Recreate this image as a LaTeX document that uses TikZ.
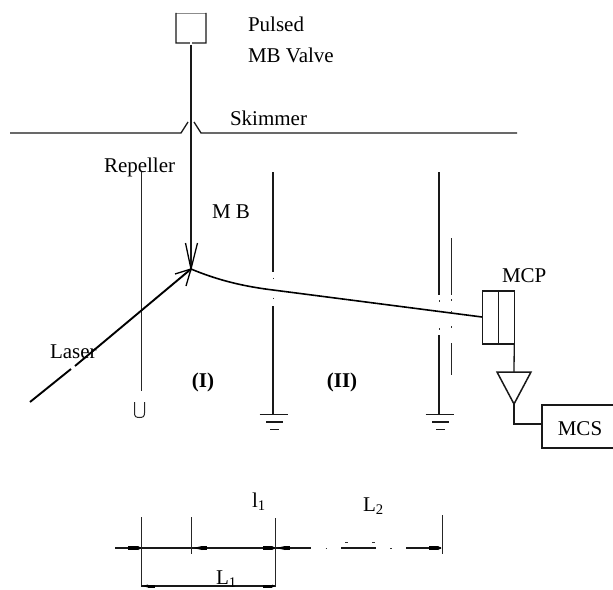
\documentclass[tikz,border=0pt]{standalone}
\usepackage{fontspec}
\setmainfont{Liberation Serif}
\tikzset{
  lbl/.style={inner sep=0pt,outer sep=0pt,font=\fontsize{21bp}{24bp}\selectfont},
  wire/.style={line width=1.3bp,black!90},
  thin wire/.style={line width=1bp,black!85},
  beam/.style={line width=1.9bp,black},
  head/.style={line width=1.3bp,black},
  dimtip/.style={line width=3.8bp,black},
  dot/.style={line width=1bp,black!80},
  box/.style={draw=black!90,line width=1.3bp,inner sep=0pt,outer sep=0pt},
  open box/.style={inner sep=0pt,outer sep=0pt},
}
\begin{document}
\begin{tikzpicture}[x=1bp,y=-1bp]
\useasboundingbox (0,0) rectangle (613,590);
% valve
\node[open box,minimum width=30bp,minimum height=30bp] (valve) at (191,28) {};
\draw[black!45,line width=.9bp] (valve.north west) -- (valve.north east);
\draw[wire,line join=miter] (valve.north west) -- (valve.south west) -- (189.8,43);
\draw[wire,line join=miter] (valve.north east) -- (valve.south east) -- (192.2,43);
\coordinate (beamtop) at (191,45);
\coordinate (hit) at (191,269);
\draw[wire,line width=1.4bp] (beamtop) -- (hit);
\draw[head] (185.5,243) -- (hit) -- (197.5,243);
% skimmer
\coordinate (skL) at (10,133);
\coordinate (skR) at (517,133);
\draw[wire] (skL) -- (181,133) -- (188,122);
\draw[wire] (194,122) -- (201,133) -- (skR);
% repeller
\coordinate (repT) at (141,172);
\coordinate (repB) at (141,391);
\draw[thin wire] (repT) -- (repB);
\draw[thin wire] (134.5,402) -- (134.5,413) .. controls (134.5,416.5) and (136,417.5) .. (139.5,417.5) .. controls (143,417.5) and (144.5,416.5) .. (144.5,413) -- (144.5,402);
% laser
\coordinate (lasS) at (30,402);
\draw[beam] (lasS) -- (71,369);
\draw[beam] (75,366) -- (hit);
\draw[head] (175,274) -- (hit) -- (186,286);
% ion path
\coordinate (mcpin) at (482,317);
\draw[beam,line width=1.6bp] (hit) .. controls (215,279) and (240,286) .. (273,290) -- (mcpin);
% plate 1
\draw[wire] (273,172) -- (273,272);
\draw[wire] (273,306) -- (273,414);
\draw[dot] (273,277.5) -- (273,279) (273,297.5) -- (273,299);
% plate 2
\draw[wire] (439,172) -- (439,295);
\draw[wire] (439,335) -- (439,414);
\draw[dot] (439,300) -- (439,301.5) (439,328) -- (439,329.5);
% plate 3
\draw[thin wire] (451,238) -- (451,295);
\draw[thin wire] (451,343) -- (451,375);
\draw[dot] (451,299) -- (451,300.5) (451,326) -- (451,327.5) (451,311) -- (451,312.5);
% grounds
\foreach \gx in {273,439}{
  \draw[wire] (\gx-13.5,414.5) -- (\gx+15,414.5);
  \draw[wire] (\gx-7,422) -- (\gx+10,422);
  \draw[wire] (\gx-3,429.5) -- (\gx+6,429.5);
}
% MCP
\node[box,minimum width=31.5bp,minimum height=53bp] (mcp) at (498.5,317.5) {};
\draw[wire] (mcp.north) -- (mcp.south);
% amp
\coordinate (ampT) at (514,372);
\coordinate (ampB) at (514,404);
\draw[wire,line width=1.5bp] (497,372) -- (531,372) -- (ampB) -- cycle;
\draw[wire] (mcp.south east) -- (ampT);
% MCS
\node[box,minimum width=72bp,minimum height=43bp] (mcs) at (578,426.5) {};
\draw[wire] (ampB) -- (514,424) -- (mcs.west |- 0,424);
% dimension
\coordinate (d0) at (115,548);
\draw[wire,line width=1.4bp] (d0) -- (311,548);
\draw[wire,line width=1.4bp] (341,548) -- (376,548);
\draw[wire,line width=1.4bp] (406,548) -- (441,548);
\draw[dot] (325.5,548) -- (327,548) (390,548) -- (391.5,548);
\draw[dot,line width=.6bp] (345,542) -- (348,542) (372,542) -- (375,542);
\draw[thin wire] (141,517) -- (141,587);
\draw[thin wire] (191,517) -- (191,554);
\draw[thin wire] (275,518) -- (275,587);
\draw[thin wire] (442,515) -- (442,554);
\draw[wire,line width=1.4bp] (141,586) -- (275,586);
\foreach \a/\b in {128/138,263/272,429/438}{
  \fill (\a,546) rectangle (\b,550);
  \fill (\b,546) -- (\b+3.5,548) -- (\b,550) -- cycle;
}
\foreach \a/\b in {202/207,285/290}{
  \fill (\a,546) rectangle (\b,550);
  \fill (\a,546) -- (\a-9,548) -- (\a,550) -- cycle;
}
\fill (148,584.5) rectangle (155,587.5);
\fill (148,584.5) -- (142,586) -- (148,587.5) -- cycle;
\fill (263,584.5) rectangle (272,587.5);
\fill (272,584.5) -- (275,586) -- (272,587.5) -- cycle;
% labels
\node[lbl,anchor=base west] (tp) at (248,32) {Pulsed};
\node[lbl,anchor=base west] (tv) at (248,63) {MB Valve};
\node[lbl,anchor=base west] (ts) at (230,126) {Skimmer};
\node[lbl,anchor=base west] (tr) at (104,173) {Repeller};
\node[lbl,anchor=base west] (tm) at (212,218) {M B};
\node[lbl,anchor=base west] (tl) at (50,358) {Laser};
\node[lbl,anchor=base,font=\fontsize{21bp}{24bp}\selectfont\bfseries] (t1) at (203,387) {(I)};
\node[lbl,anchor=base,font=\fontsize{21bp}{24bp}\selectfont\bfseries] (t2) at (342,387) {(II)};
\node[lbl,anchor=base west] (tc) at (502,282) {MCP};
\node[lbl,anchor=base] (tcs) at (580,435) {MCS};
\node[lbl,anchor=base west] (ta) at (252,507) {l\textsubscript{1}};
\node[lbl,anchor=base west] (tb) at (363,511) {L\textsubscript{2}};
\node[lbl,anchor=base west] (tcc) at (216,584.5) {L\textsubscript{1}};
\end{tikzpicture}
\end{document}
